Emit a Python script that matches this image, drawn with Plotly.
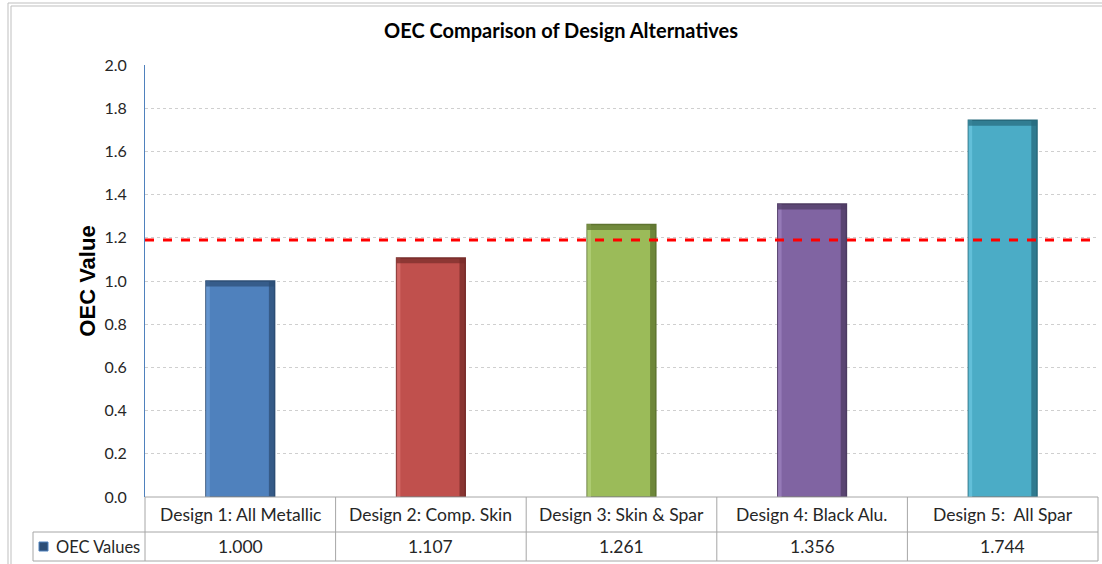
import plotly.graph_objects as go

categories = ["Design 1: All Metallic", "Design 2: Comp. Skin", "Design 3: Skin & Spar",
              "Design 4: Black Alu.", "Design 5:  All Spar"]
oec_values = [1.000, 1.107, 1.261, 1.356, 1.744]
value_labels = ["1.000", "1.107", "1.261", "1.356", "1.744"]
series_name = "OEC Values"
threshold = 1.19
bar_colors = ["#4F81BD", "#C0504D", "#9BBB59", "#8064A2", "#4BACC6"]
edge_colors = ["#2C4D75", "#772C2A", "#5F7530", "#4D3B62", "#276A7C"]
light_colors = ["#6A9AD3", "#D76E6B", "#B2D078", "#9A7FBD", "#68C4DD"]

fig = go.Figure()
x_idx = list(range(len(categories)))
bw = 0.36
bevel_h = 0.025
fig.add_trace(go.Bar(
    x=x_idx, y=oec_values, width=bw,
    marker=dict(color=bar_colors, line=dict(color=edge_colors, width=1.5)),
    showlegend=False, hoverinfo="skip"))
# bevel: right dark strip
fig.add_trace(go.Bar(
    x=x_idx, y=oec_values, width=0.03, offset=bw / 2 - 0.03,
    marker=dict(color=edge_colors, line=dict(width=0), opacity=0.75),
    showlegend=False, hoverinfo="skip"))
# bevel: left light strip
fig.add_trace(go.Bar(
    x=x_idx, y=oec_values, width=0.02, offset=-bw / 2,
    marker=dict(color=light_colors, line=dict(width=0), opacity=0.8),
    showlegend=False, hoverinfo="skip"))
# bevel: top dark band
fig.add_trace(go.Bar(
    x=x_idx, y=[bevel_h] * len(oec_values), base=[v - bevel_h for v in oec_values], width=bw,
    marker=dict(color=edge_colors, line=dict(width=0), opacity=0.7),
    showlegend=False, hoverinfo="skip"))

# threshold dashed line
fig.add_trace(go.Scatter(
    x=[-0.5, len(categories) - 0.5], y=[threshold, threshold], mode="lines",
    line=dict(color="#FF0000", width=3, dash="dash"), showlegend=False, hoverinfo="skip"))

n = len(categories)
L, R, T, B = 145, 4, 65, 67
W, H = 1102, 564
pw, ph = W - L - R, H - T - B

def px2x(px):
    return (px - L) / pw

def py2y(py):
    return (H - B - py) / ph

row1_bot = py2y(532)
row2_bot = py2y(561)
left_x = px2x(33)
shapes = []
line_style = dict(color="#A6A6A6", width=1)
shapes.append(dict(type="line", xref="paper", yref="paper", x0=0, x1=1, y0=0, y1=0, line=line_style))
shapes.append(dict(type="line", xref="paper", yref="paper", x0=left_x, x1=1, y0=row1_bot, y1=row1_bot, line=line_style))
shapes.append(dict(type="line", xref="paper", yref="paper", x0=left_x, x1=1, y0=row2_bot, y1=row2_bot, line=line_style))
shapes.append(dict(type="line", xref="paper", yref="paper", x0=left_x, x1=left_x, y0=row1_bot, y1=row2_bot, line=line_style))
for i in range(n + 1):
    xx = i / n
    shapes.append(dict(type="line", xref="paper", yref="paper", x0=xx, x1=xx, y0=0, y1=row2_bot, line=line_style))
# outer frame (double line)
shapes.append(dict(type="rect", xref="paper", yref="paper", x0=px2x(8), x1=px2x(1108), y0=py2y(570), y1=py2y(3),
                   line=dict(color="#BFBFBF", width=1)))
shapes.append(dict(type="rect", xref="paper", yref="paper", x0=px2x(11), x1=px2x(1111), y0=py2y(573), y1=py2y(6),
                   line=dict(color="#BFBFBF", width=1)))
# legend key
shapes.append(dict(type="rect", xref="paper", yref="paper", x0=px2x(39), x1=px2x(48), y0=py2y(551), y1=py2y(542),
                   fillcolor="#2C4D75", line=dict(color="#4F81BD", width=1)))

annotations = []
font_lbl = dict(family="Lato, 'Open Sans', sans-serif", size=17.5, color="#262626")
for i, (c, v) in enumerate(zip(categories, value_labels)):
    annotations.append(dict(x=i, xref="x", y=(0 + row1_bot) / 2, yref="paper", text=c, showarrow=False,
                            font=font_lbl, xanchor="center", yanchor="middle"))
    annotations.append(dict(x=i, xref="x", y=(row1_bot + row2_bot) / 2, yref="paper", text=v, showarrow=False,
                            font=font_lbl, xanchor="center", yanchor="middle"))
annotations.append(dict(x=px2x(54), xref="paper", y=(row1_bot + row2_bot) / 2, yref="paper", text=series_name,
                        showarrow=False, font=dict(font_lbl, size=16.5), xanchor="left", yanchor="middle"))

fig.update_layout(
    width=W, height=H,
    margin=dict(l=L, r=R, t=T, b=B),
    plot_bgcolor="white", paper_bgcolor="white",
    barmode="overlay",
    title=dict(text="<b>OEC Comparison of Design Alternatives</b>", x=561 / W, xanchor="center",
               y=1 - 31 / H, yanchor="middle",
               font=dict(family="Lato, sans-serif", size=20, color="#000000")),
    xaxis=dict(range=[-0.5, n - 0.5], showticklabels=False, showgrid=False, zeroline=False,
               fixedrange=True),
    yaxis=dict(range=[0, 2.0], dtick=0.2, tickformat=".1f", showgrid=True,
               gridcolor="#CFCFCF", griddash="dot", gridwidth=1,
               showline=True, linecolor="#4F81BD", linewidth=1, zeroline=False,
               ticks="", ticklen=0, ticklabelstandoff=14,
               tickfont=dict(family="Lato, sans-serif", size=16, color="#262626"),
               title=dict(text="<b>OEC Value</b>", standoff=2,
                          font=dict(family="Liberation Sans, Arial, sans-serif", size=22, color="#000000"))),
    shapes=shapes, annotations=annotations,
)
fig.write_html("out.html", config={"displayModeBar": False},
               post_script="document.body.style.margin='0';document.body.style.overflow='hidden';")
